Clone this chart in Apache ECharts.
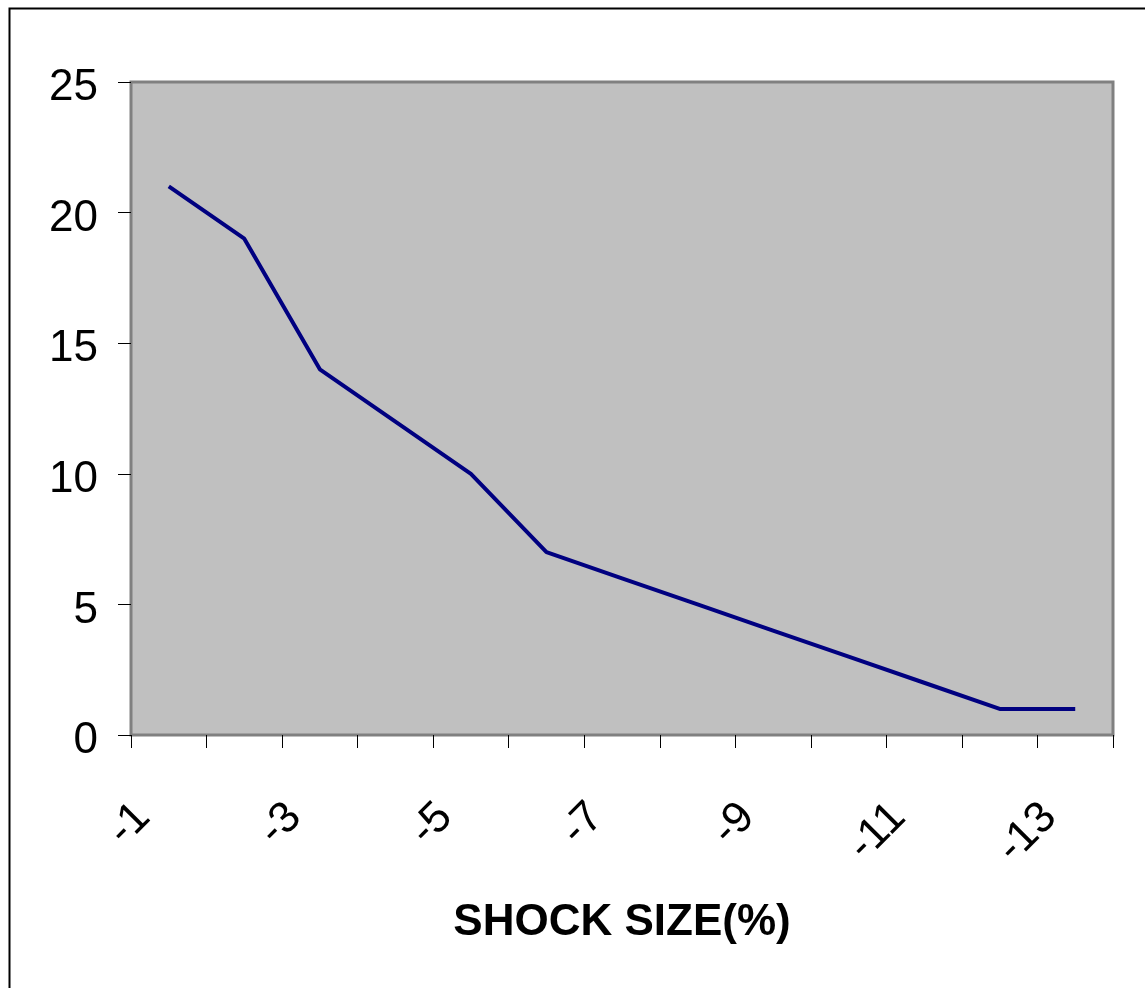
<!DOCTYPE html>
<html>
<head>
<meta charset="utf-8">
<script src="https://cdn.jsdelivr.net/npm/echarts@6/dist/echarts.min.js"></script>
<style>
  html, body { margin: 0; padding: 0; background: #fff; }
  #chart { width: 1145px; height: 988px; }
</style>
</head>
<body>
<div id="chart"></div>
<script>
var shockSizes = ['-1', '-2', '-3', '-4', '-5', '-6', '-7', '-8', '-9', '-10', '-11', '-12', '-13'];
var counts = [21, 19, 14, 12, 10, 7, 6, 5, 4, 3, 2, 1, 1];
var yTicks = { min: 0, max: 25, step: 5 };
var xTitle = 'SHOCK SIZE(%)';

var chart = echarts.init(document.getElementById('chart'));

chart.setOption({
    animation: false,
    textStyle: { fontFamily: 'Liberation Sans, Arial, sans-serif' },
    graphic: [{
        type: 'rect',
        left: 7, top: 6,
        shape: { width: 1160, height: 1000 },
        style: { fill: 'none', stroke: '#000', lineWidth: 2 },
        silent: true
    }],
    grid: {
        left: 131, top: 82, right: 32, bottom: 253,
        show: true,
        backgroundColor: '#c0c0c0',
        borderColor: '#808080',
        borderWidth: 3
    },
    xAxis: {
        type: 'category',
        data: shockSizes,
        boundaryGap: true,
        name: xTitle,
        nameLocation: 'middle',
        nameGap: 166,
        nameTextStyle: { fontSize: 44, fontWeight: 'bold', color: '#000' },
        axisLine: { show: false },
        axisTick: { show: true, interval: 0, length: 13, lineStyle: { color: '#000', width: 1 } },
        axisLabel: {
            interval: 1, rotate: 45, margin: 50, fontSize: 44, color: '#000',
            padding: [0, 36, 0, 0]
        },
        splitLine: { show: false }
    },
    yAxis: {
        type: 'value',
        min: yTicks.min, max: yTicks.max, interval: yTicks.step,
        axisLine: { show: false },
        axisTick: { show: true, length: 13, lineStyle: { color: '#000', width: 1 } },
        axisLabel: {
            margin: 33, color: '#000',
            formatter: '{v|{value}}',
            rich: { v: { fontSize: 44, color: '#000', padding: [12, 0, 0, 0] } }
        },
        splitLine: { show: false }
    },
    series: [{
        type: 'line',
        data: counts,
        symbol: 'none',
        lineStyle: { color: '#000080', width: 4 }
    }]
});
</script>
</body>
</html>
